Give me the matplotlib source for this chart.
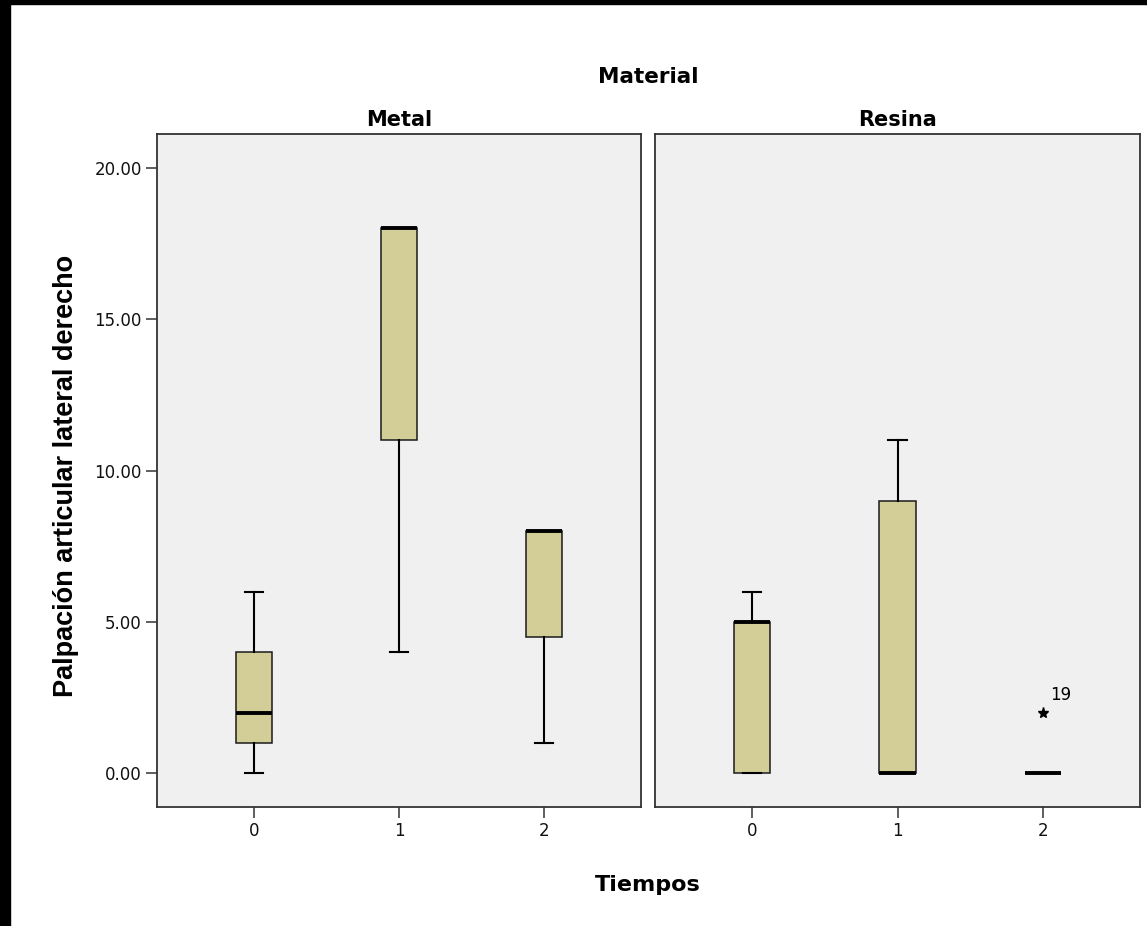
import matplotlib.pyplot as plt
from matplotlib.patches import Rectangle

W, H = 1147, 926

tiempos = ['0', '1', '2']
materiales = ['Metal', 'Resina']
y_ticks = [0, 5, 10, 15, 20]

# five-number summaries, one value per tiempo
metal_whislo = [0, 4, 1]
metal_q1 = [1, 11, 4.5]
metal_med = [2, 18, 8]
metal_q3 = [4, 18, 8]
metal_whishi = [6, 18, 8]
metal_extremos = [[], [], []]

resina_whislo = [0, 0, 0]
resina_q1 = [0, 0, 0]
resina_med = [5, 0, 0]
resina_q3 = [5, 9, 0]
resina_whishi = [6, 11, 0]
resina_extremos = [[], [], [2]]
resina_casos = ['', '', '19']

BOX = '#D3CE97'
PANEL = '#F0F0F0'
EDGE = '#333333'


def resumen(whislo, q1, med, q3, whishi, fliers):
    return [dict(whislo=a, q1=b, med=c, q3=d, whishi=e, fliers=f)
            for a, b, c, d, e, f in zip(whislo, q1, med, q3, whishi, fliers)]


fig = plt.figure(figsize=(W / 100, H / 100), dpi=100)
fig.patch.set_facecolor('white')


def px_axes(x0, y0, x1, y1):
    return fig.add_axes([x0 / W, 1 - y1 / H, (x1 - x0) / W, (y1 - y0) / H])


ax_metal = px_axes(157, 134, 641, 807)
ax_resina = px_axes(655, 134, 1140, 807)

datos = {
    'Metal': resumen(metal_whislo, metal_q1, metal_med, metal_q3, metal_whishi, metal_extremos),
    'Resina': resumen(resina_whislo, resina_q1, resina_med, resina_q3, resina_whishi, resina_extremos),
}

for ax, mat in zip([ax_metal, ax_resina], materiales):
    ax.set_facecolor(PANEL)
    ax.bxp(datos[mat], positions=range(len(tiempos)), widths=0.25, capwidths=0.125,
           patch_artist=True, manage_ticks=False,
           boxprops=dict(facecolor=BOX, edgecolor='#1a1a1a', linewidth=1.1),
           medianprops=dict(color='black', linewidth=2.8, solid_capstyle='butt'),
           whiskerprops=dict(color='black', linewidth=1.5),
           capprops=dict(color='black', linewidth=1.5),
           flierprops=dict(marker='*', markersize=8, markerfacecolor='black',
                           markeredgecolor='black'))
    ax.set_xlim(-0.667, 2.667)
    ax.set_ylim(-1.12, 21.12)
    ax.set_xticks(range(len(tiempos)), tiempos)
    ax.set_yticks(y_ticks, [f'{v:.2f}' for v in y_ticks])
    for s in ax.spines.values():
        s.set_color(EDGE)
        s.set_linewidth(1.3)
    ax.tick_params(direction='out', length=8, width=1.1, color=EDGE, pad=3,
                   labelsize=12, labelcolor='#111111')
    for lab in ax.get_xticklabels() + ax.get_yticklabels():
        lab.set_family('DejaVu Sans')
    ax.set_title(mat, fontsize=15, fontweight='bold', family='DejaVu Sans', pad=6)

ax_resina.tick_params(left=False, labelleft=False)

# case number next to the extreme value
for i, (vals, caso) in enumerate(zip(resina_extremos, resina_casos)):
    for v in vals:
        ax_resina.annotate(caso, xy=(i, v), xytext=(5, 13), textcoords='offset points',
                           ha='left', va='center', fontsize=12, family='DejaVu Sans')

fig.text(648 / W, 1 - 83 / H, 'Material', ha='center', va='baseline',
         fontsize=15.5, fontweight='bold', family='DejaVu Sans')
fig.text(648 / W, 1 - 891 / H, 'Tiempos', ha='center', va='baseline',
         fontsize=16, fontweight='bold', family='DejaVu Sans')
fig.text(73 / W, 1 - 476 / H, 'Palpación articular lateral derecho', rotation=90,
         rotation_mode='anchor', ha='center', va='baseline',
         fontsize=19.5, fontweight='bold', family='Liberation Sans')

# black frame strips along the top and left edges
fig.patches.append(Rectangle((0, 0), 10 / W, 1, transform=fig.transFigure,
                             color='black', zorder=10))
fig.patches.append(Rectangle((0, 1 - 4 / H), 1, 4 / H, transform=fig.transFigure,
                             color='black', zorder=10))

fig.savefig('out.png', dpi=100)
